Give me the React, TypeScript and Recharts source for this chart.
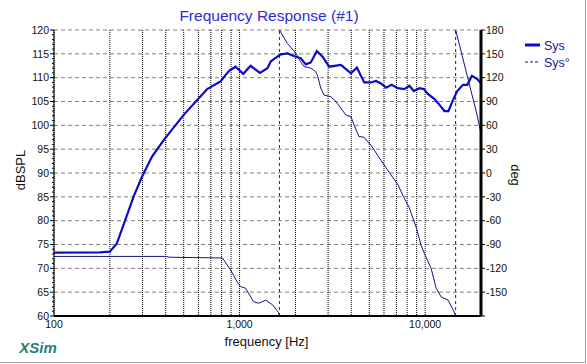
import { CartesianGrid, Line, LineChart, XAxis, YAxis } from "recharts";

// magnitude (dBSPL)
const magFreq = [
  100, 177, 200, 218, 242, 268, 298, 337, 390, 500, 591, 669, 789, 875, 951, 1047, 1146, 1288, 1412, 1472,
  1531, 1666, 1811, 2008, 2136, 2274, 2420, 2609, 2799, 3041, 3516, 3981, 4289, 4698, 5105, 5433, 5782,
  6153, 6600, 7117, 7731, 8224, 8690, 9311, 9841, 10350, 11230, 11950, 12710, 13360, 14120, 14890, 15990,
  16870, 17880, 19090, 20000
];
const magDb = [
  73.3, 73.35, 73.5, 75.2, 80.1, 85.0, 89.2, 93.4, 96.9, 102.2, 105.3, 107.6, 109.2, 111.4, 112.3, 110.8, 112.5, 111.0, 112.0, 113.4,
  113.9, 114.9, 115.1, 114.4, 114.1, 112.8, 113.2, 115.6, 114.4, 112.3, 112.7, 110.9, 112.1, 109.0, 109.0, 109.3, 108.8,
  107.9, 108.5, 107.8, 107.6, 108.3, 107.2, 107.8, 107.6, 106.6, 105.5, 104.3, 103.0, 103.0, 105.3, 107.2, 108.5,
  108.5, 110.4, 109.7, 108.8
];

// phase (deg), split at the wraps
const phaseFreq1 = [100, 400, 420, 809, 894, 976, 1012, 1077, 1190, 1268, 1383, 1507, 1626, 1640];
const phaseDeg1 = [-105, -105, -106, -107, -122, -138, -143, -145, -162, -164, -160, -166, -176, -180];
const phaseFreq2 = [
  1640, 1811, 2008, 2136, 2227, 2420, 2560, 2628, 2738, 2856, 3105, 3305, 3516, 3741, 3981, 4147, 4397, 4677,
  5105, 5782, 6390, 7146, 7691, 8190, 8937, 9506, 9900, 10770, 11460, 12200, 13300, 14340, 14600
];
const phaseDeg2 = [
  180, 163, 151, 140, 134, 132, 128, 123, 107, 98, 96, 90, 81.5, 73, 71, 60, 46, 45,
  35, 16, 1, -15, -31, -43, -68, -91, -101, -120, -145, -156, -160, -175, -180
];
const phaseFreq3 = [14600, 15320, 16300, 17730, 18870, 19900, 20000];
const phaseDeg3 = [180, 161, 136, 102, 77, 52, 48];
const wrapFreq = [1640, 14600];

const freqTicks = [
  100, 200, 300, 400, 500, 600, 700, 800, 900, 1000, 2000, 3000, 4000, 5000, 6000, 7000, 8000, 9000, 10000, 20000
];
const freqLabels = [100, 1000, 10000];
const dbTicks = Array.from({ length: 61 }, (_, i) => 60 + i);
const degTicks = [-180, -150, -120, -90, -60, -30, 0, 30, 60, 90, 120, 150, 180];

const magData = magFreq.map((f, i) => ({ f, v: magDb[i] }));
const phaseSegs = [
  phaseFreq1.map((f, i) => ({ f, v: phaseDeg1[i] })),
  phaseFreq2.map((f, i) => ({ f, v: phaseDeg2[i] })),
  phaseFreq3.map((f, i) => ({ f, v: phaseDeg3[i] }))
];
const wrapSegs = wrapFreq.map((f) => [
  { f, v: -180 },
  { f, v: 180 }
]);

const FONT = "'Liberation Sans', Arial, sans-serif";
const MAG = "#0c0cc8";
const PHASE = "#14148c";
const AXIS_X = 54;

function DbTick(props: any) {
  const { y, payload } = props;
  const major = payload.value % 5 === 0;
  return (
    <g>
      <line x1={AXIS_X - (major ? 4 : 2)} x2={AXIS_X} y1={y} y2={y} stroke="#000" />
      {major && (
        <text x={AXIS_X - 5} y={y} dy="0.35em" textAnchor="end" fontSize={10.5} fill="#111" fontFamily={FONT}>
          {payload.value}
        </text>
      )}
    </g>
  );
}

const centered = (left: number, top: number, extra: any = {}) => ({
  position: "absolute" as const,
  left,
  top,
  transform: "translate(-50%, -50%)",
  whiteSpace: "nowrap" as const,
  lineHeight: 1,
  fontFamily: FONT,
  ...extra
});

export default function App() {
  return (
    <div style={{ position: "absolute", left: 0, top: 0, width: 587, height: 364, background: "#fff" }}>
      <div
        style={{
          position: "absolute",
          left: 0,
          top: 0,
          width: 586,
          height: 363,
          boxSizing: "border-box",
          borderRight: "1px solid #a0a0a0",
          borderBottom: "1px solid #a0a0a0"
        }}
      />
      <LineChart width={587} height={364} margin={{ top: 30, right: 66, bottom: 18, left: 0 }}>
        <CartesianGrid yAxisId="deg" vertical={false} stroke="#808080" strokeDasharray="4 3" />
        <CartesianGrid yAxisId="deg" horizontal={false} stroke="#000" strokeDasharray="1 1" />
        <XAxis
          dataKey="f"
          type="number"
          scale="log"
          domain={[100, 20000]}
          allowDataOverflow
          ticks={freqTicks}
          tickFormatter={(v: number) => (freqLabels.includes(v) ? v.toLocaleString("en-US") : "")}
          tickLine={false}
          tickSize={0}
          tickMargin={5}
          height={30}
          axisLine={{ stroke: "#000", strokeWidth: 2 }}
          tick={{ fontSize: 10.5, fill: "#111", fontFamily: FONT }}
          interval={0}
        />
        <YAxis
          yAxisId="db"
          domain={[60, 120]}
          ticks={dbTicks}
          interval={0}
          width={54}
          tickLine={false}
          axisLine={{ stroke: "#000" }}
          tick={<DbTick />}
        />
        <YAxis
          yAxisId="deg"
          orientation="right"
          domain={[-180, 180]}
          ticks={degTicks}
          interval={0}
          width={40}
          tickSize={4}
          tickMargin={1}
          tickLine={{ stroke: "#000" }}
          axisLine={{ stroke: "#000", strokeWidth: 3 }}
          tickFormatter={(v: number) => (v === -180 ? "" : String(v))}
          tick={{ fontSize: 10.5, fill: "#111", fontFamily: FONT }}
        />
        {wrapSegs.map((seg, i) => (
          <Line
            key={"w" + i}
            yAxisId="deg"
            data={seg}
            dataKey="v"
            type="linear"
            stroke="#1a1ab0"
            strokeWidth={1}
            strokeDasharray="3 3"
            dot={false}
            isAnimationActive={false}
          />
        ))}
        {phaseSegs.map((seg, i) => (
          <Line
            key={"p" + i}
            yAxisId="deg"
            data={seg}
            dataKey="v"
            type="linear"
            stroke={PHASE}
            strokeWidth={1}
            dot={false}
            isAnimationActive={false}
          />
        ))}
        <Line
          yAxisId="db"
          data={magData}
          dataKey="v"
          type="linear"
          stroke={MAG}
          strokeWidth={2.2}
          dot={false}
          isAnimationActive={false}
        />
      </LineChart>

      <div style={centered(269, 16, { fontSize: 15.5, color: "#2b2be0" })}>Frequency Response (#1)</div>
      <div style={centered(20, 170, { fontSize: 13, color: "#111", transform: "translate(-50%, -50%) rotate(-90deg)" })}>
        dBSPL
      </div>
      <div style={centered(515, 175, { fontSize: 13, color: "#111", transform: "translate(-50%, -50%) rotate(90deg)" })}>
        deg
      </div>
      <div style={centered(266.5, 341, { fontSize: 13, color: "#111" })}>frequency [Hz]</div>
      <div style={centered(38, 347, { fontSize: 15, color: "#1f7f7f", fontWeight: "bold", fontStyle: "italic" })}>XSim</div>

      <svg style={{ position: "absolute", left: 520, top: 36 }} width={20} height={34}>
        <line x1={5} x2={20} y1={9} y2={9} stroke={MAG} strokeWidth={3} />
        <line x1={5} x2={20} y1={26} y2={26} stroke={PHASE} strokeWidth={1} strokeDasharray="3 2" />
      </svg>
      <div
        style={{
          position: "absolute",
          left: 544,
          top: 38,
          fontSize: 12.5,
          fontWeight: "normal",
          color: "#1c1c8c",
          fontFamily: FONT,
          lineHeight: "17px"
        }}
      >
        <div>Sys</div>
        <div>Sys°</div>
      </div>
    </div>
  );
}
